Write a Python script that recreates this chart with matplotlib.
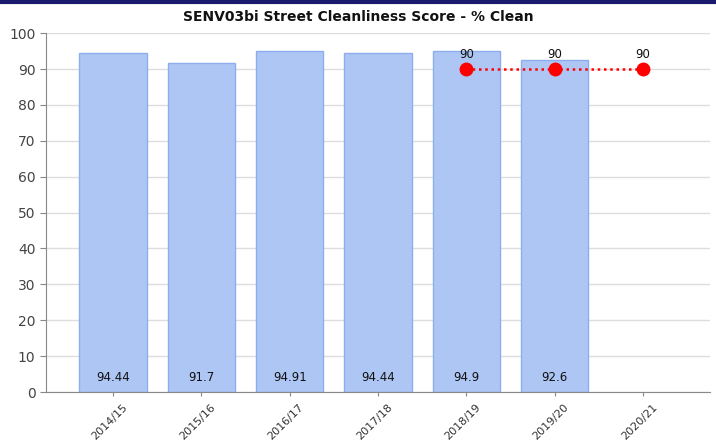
import matplotlib
matplotlib.use("Agg")
import matplotlib.pyplot as plt
from matplotlib.lines import Line2D
from matplotlib.transforms import ScaledTranslation

categories = ["2014/15", "2015/16", "2016/17", "2017/18", "2018/19", "2019/20", "2020/21"]
actual = [94.44, 91.7, 94.91, 94.44, 94.9, 92.6, None]
target_idx = [4, 5, 6]
target = [90, 90, 90]

fig = plt.figure(figsize=(7.16, 4.48), dpi=100)
fig.add_artist(Line2D([0, 1], [0.996, 0.996], transform=fig.transFigure, color="#1a1a6e", lw=3))
ax = fig.add_axes([0.064, 0.125, 0.928, 0.801])

xs = [i for i, v in enumerate(actual) if v is not None]
vals = [v for v in actual if v is not None]
ax.bar(xs, vals, width=0.76, color="#aec6f4", edgecolor="#8caeee", linewidth=1, zorder=2)
for x, v in zip(xs, vals):
    ax.text(x, 2.2, f"{v:g}", ha="center", va="bottom", fontsize=8.5, color="#111111", zorder=4)

ax.plot(target_idx, target, color="#ff0000", linestyle=(0, (1, 1.5)), lw=1.8, marker="o",
        markersize=9, zorder=3)
for x, v in zip(target_idx, target):
    ax.text(x, v + 2.3, f"{v:g}", ha="center", va="bottom", fontsize=8.5, color="#111111", zorder=4)

ax.set_xlim(-0.76, 6.76)
ax.set_ylim(0, 100)
ax.set_yticks(range(0, 101, 10))
ax.set_xticks(range(len(categories)))
ax.tick_params(axis="y", labelsize=10, colors="#888888", length=4, labelcolor="#444444")
ax.tick_params(axis="x", length=3, colors="#888888", labelcolor="#333333", pad=4)
ax.set_xticklabels(categories, rotation=45, ha="right", rotation_mode="anchor", fontsize=8, color="#333333")
offset = ScaledTranslation(9 / 100, 0, fig.dpi_scale_trans)
for lbl in ax.get_xticklabels():
    lbl.set_transform(lbl.get_transform() + offset)
ax.grid(axis="y", color="#dddddd", lw=1, zorder=0)
ax.set_axisbelow(True)
for s in ["top", "right"]:
    ax.spines[s].set_visible(False)
ax.spines["left"].set_color("#888888")
ax.spines["bottom"].set_color("#888888")

fig.text(0.5, 0.962, "SENV03bi Street Cleanliness Score - % Clean", ha="center", va="center",
         fontsize=10, fontweight="bold", color="#111111")

fig.savefig("out.png", dpi=100)
